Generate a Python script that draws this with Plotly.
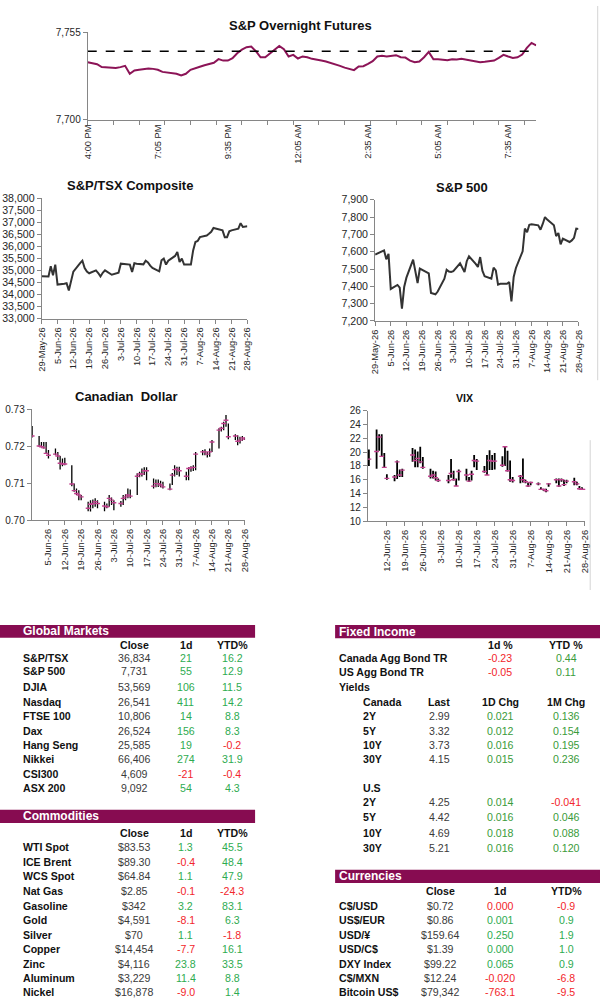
import numpy as np
import pandas as pd
import plotly.graph_objects as go

# ---------------- data ----------------
# S&P overnight futures, one reading every 2nd 5-minute bar from 4:00 PM
FUT_STEP = 2
fut_vals = [
    7736.2, 7735.6, 7734.9, 7733.1, 7732.8, 7732.6, 7732.6, 7733.1, 7733.9, 7728.9,
    7731.0, 7731.4, 7732.0, 7732.2, 7732.0, 7731.4, 7730.1, 7729.7, 7729.5, 7728.9,
    7727.8, 7728.9, 7731.4, 7732.6, 7733.3, 7734.3, 7735.1, 7735.8, 7738.1, 7737.2,
    7737.2, 7738.7, 7741.8, 7744.1, 7745.6, 7746.0, 7743.1, 7739.3, 7739.3, 7741.8,
    7743.9, 7746.4, 7744.3, 7739.8, 7740.8, 7738.5, 7739.8, 7739.3, 7738.3, 7737.9,
    7737.2, 7736.6, 7735.8, 7734.9, 7733.9, 7732.8, 7732.2, 7731.2, 7733.5, 7733.7,
    7735.1, 7736.8, 7739.8, 7740.2, 7739.8, 7740.4, 7740.6, 7739.3, 7739.1, 7737.2,
    7736.2, 7736.6, 7739.3, 7742.7, 7738.1, 7738.1, 7737.7, 7737.4, 7738.1, 7737.9,
    7738.3, 7737.7, 7737.2, 7736.6, 7736.2, 7736.4, 7736.8, 7737.2, 7738.9, 7740.8,
    7739.8, 7738.9, 7739.3, 7741.0, 7745.2, 7748.3, 7746.7,
]
fut_prev_close = 7743
fut_tick_bar = [0, 30, 60, 90, 120, 150, 180]
fut_tick_text = ["4:00 PM", "7:05 PM", "9:35 PM", "12:05 AM", "2:35 AM", "5:05 AM", "7:35 AM"]

# daily closes, business days 29-May-26 .. 28-Aug-26
tsx_close = [
    34760, 34750, 35170, 34800, 35240, 34410,
    34450, 34470, 34170, 34600, 34950,
    35300, 35400, 35100, 34950, 34880,
    35000, 34890, 34750, 34900, 35000,
    34820, 34840, 34860, 34900, 35280,
    35240, 35240, 34930, 35300, 35280,
    35250, 35400, 35330, 35200, 35100,
    34960, 35420, 35490, 35240, 35400,
    35600, 35760, 35350, 35490, 35240,
    35240, 35830, 36180, 36220, 36380,
    36450, 36520, 36600, 36760, 36740,
    36660, 36380, 36380, 36620, 36660,
    36730, 36960, 36800, 36820, 36834,
]
spx_close = [
    7583, 7600, 7607, 7556, 7588, 7385,
    7408, 7392, 7271, 7396, 7450,
    7554, 7490, 7419, 7502, 7495,
    7475, 7362, 7356, 7354, 7370,
    7444, 7496, 7485, 7483, 7487,
    7533, 7510, 7483, 7545, 7573,
    7530, 7512, 7569, 7490, 7458,
    7444, 7508, 7492, 7410, 7415,
    7415, 7425, 7313, 7454, 7506,
    7602, 7733, 7713, 7755, 7758,
    7752, 7727, 7760, 7800, 7785,
    7752, 7690, 7708, 7642, 7675,
    7656, 7665, 7680, 7733, 7731,
]

# Canadian dollar high / low / close, same business days
cad_high = [
    0.7255, 0.7228, 0.7212, 0.7212, 0.7212, 0.7190,
    0.7194, 0.7185, 0.7174, 0.7167, 0.7169,
    0.7149, 0.7099, 0.7086, 0.7081, 0.7068,
    0.7050, 0.7054, 0.7056, 0.7059, 0.7054,
    0.7050, 0.7045, 0.7068, 0.7061, 0.7054,
    0.7052, 0.7068, 0.7070, 0.7086, 0.7083,
    0.7127, 0.7131, 0.7140, 0.7143, 0.7143,
    0.7113, 0.7110, 0.7110, 0.7107, 0.7104,
    0.7099, 0.7128, 0.7149, 0.7145, 0.7145,
    0.7131, 0.7143, 0.7146, 0.7149, 0.7185,
    0.7190, 0.7192, 0.7185, 0.7194, 0.7217,
    0.7249, 0.7253, 0.7267, 0.7285, 0.7262,
    0.7233, 0.7230, 0.7226, 0.7228, 0.7224,
]
cad_low = [
    0.7224, 0.7199, 0.7197, 0.7194, 0.7179, 0.7167,
    0.7176, 0.7163, 0.7137, 0.7146, 0.7149,
    0.7092, 0.7077, 0.7068, 0.7054, 0.7054,
    0.7024, 0.7023, 0.7032, 0.7036, 0.7032,
    0.7024, 0.7032, 0.7036, 0.7041, 0.7027,
    0.7036, 0.7041, 0.7054, 0.7059, 0.7059,
    0.7068, 0.7116, 0.7118, 0.7122, 0.7108,
    0.7086, 0.7089, 0.7090, 0.7089, 0.7086,
    0.7081, 0.7095, 0.7118, 0.7122, 0.7118,
    0.7108, 0.7108, 0.7131, 0.7133, 0.7135,
    0.7176, 0.7176, 0.7170, 0.7172, 0.7185,
    0.7194, 0.7240, 0.7244, 0.7253, 0.7219,
    0.7217, 0.7203, 0.7208, 0.7215, 0.7217,
]
cad_close = [
    0.7228, 0.7201, 0.7199, 0.7196, 0.7181, 0.7176,
    0.7179, 0.7174, 0.7154, 0.7152, 0.7152,
    0.7098, 0.7080, 0.7072, 0.7068, 0.7063,
    0.7032, 0.7043, 0.7045, 0.7050, 0.7045,
    0.7038, 0.7036, 0.7059, 0.7054, 0.7047,
    0.7045, 0.7059, 0.7063, 0.7068, 0.7065,
    0.7119, 0.7125, 0.7125, 0.7134, 0.7134,
    0.7092, 0.7099, 0.7099, 0.7095, 0.7090,
    0.7084, 0.7122, 0.7137, 0.7139, 0.7134,
    0.7119, 0.7140, 0.7142, 0.7143, 0.7179,
    0.7185, 0.7185, 0.7179, 0.7185, 0.7212,
    0.7244, 0.7249, 0.7262, 0.7271, 0.7226,
    0.7228, 0.7214, 0.7217, 0.7223, 0.7220,
]

# VIX high / low / close, US trading days 5-Jun-26 .. 28-Aug-26
vix_high = [
    20.4, 23.3, 22.6, 22.6, 19.9, 16.8,
    16.7, 18.8, 17.5, 17.6,
    20.6, 20.4, 20.1, 20.8, 19.3,
    17.6, 17.3, 17.2, 16.2,
    16.7, 19.0, 17.3, 16.2, 17.5,
    17.6, 16.4, 17.3, 19.6, 19.0,
    18.0, 19.6, 20.3, 19.6, 19.9,
    19.4, 20.9, 20.2, 18.8, 16.4,
    16.7, 19.1, 16.0, 15.6, 15.7,
    15.6, 14.9, 14.7, 14.7, 15.5,
    16.2, 16.2, 16.2, 16.0, 16.0,
    16.3, 15.7, 15.1, 14.9, 14.6,
]
vix_low = [
    18.0, 17.6, 20.2, 19.4, 17.8, 16.0,
    15.8, 16.1, 16.4, 16.4,
    18.6, 17.8, 17.8, 18.4, 17.6,
    16.2, 16.2, 15.9, 15.7,
    15.5, 16.3, 15.9, 15.1, 15.9,
    15.9, 15.7, 15.9, 17.8, 17.4,
    17.0, 16.7, 17.4, 17.4, 17.5,
    17.9, 18.0, 17.2, 15.7, 15.6,
    15.5, 15.6, 15.5, 15.0, 15.2,
    15.2, 14.5, 14.4, 14.2, 15.0,
    15.5, 15.0, 15.7, 15.1, 15.5,
    15.2, 15.2, 14.6, 14.5, 14.5,
]
vix_close = [
    19.0, 20.1, 22.2, 19.4, 17.8, 16.2,
    16.4, 18.6, 16.7, 17.4,
    19.6, 18.8, 19.1, 18.6, 17.8,
    16.5, 16.7, 16.3, 15.9,
    15.9, 16.9, 16.0, 15.1, 17.2,
    16.7, 15.8, 16.8, 18.8, 18.7,
    17.2, 16.7, 18.8, 18.7, 18.7,
    18.1, 20.8, 17.3, 16.0, 15.9,
    16.5, 16.0, 15.7, 15.1, 15.6,
    15.4, 14.6, 14.6, 14.4, 15.4,
    16.0, 15.1, 16.0, 15.3, 15.8,
    15.7, 15.4, 14.7, 14.6, 14.6,
]

# --- tables ---
gm_names = ["S&P/TSX", "S&P 500", "DJIA", "Nasdaq", "FTSE 100", "Dax", "Hang Seng", "Nikkei", "CSI300", "ASX 200"]
gm_close = ["36,834", "7,731", "53,569", "26,541", "10,806", "26,524", "25,585", "66,406", "4,609", "9,092"]
gm_1d = [21, 55, 106, 411, 14, 156, 19, 274, -21, 54]
gm_ytd = [16.2, 12.9, 11.5, 14.2, 8.8, 8.3, -0.2, 31.9, -0.4, 4.3]

com_names = ["WTI Spot", "ICE Brent", "WCS Spot", "Nat Gas", "Gasoline", "Gold", "Silver", "Copper", "Zinc", "Aluminum", "Nickel"]
com_close = ["$83.53", "$89.30", "$64.84", "$2.85", "$342", "$4,591", "$70", "$14,454", "$4,116", "$3,229", "$16,878"]
com_1d = [1.3, -0.4, 1.1, -0.1, 3.2, -8.1, 1.1, -7.7, 23.8, 11.4, -9.0]
com_ytd = [45.5, 48.4, 47.9, -24.3, 83.1, 6.3, -1.8, 16.1, 33.5, 8.8, 1.4]

agg_names = ["Canada Agg Bond TR", "US Agg Bond TR"]
agg_1d = [-0.23, -0.05]
agg_ytd = [0.44, 0.11]

tenors = ["2Y", "5Y", "10Y", "30Y"]
ca_last = [2.99, 3.32, 3.73, 4.15]
ca_1d = [0.021, 0.012, 0.016, 0.015]
ca_1m = [0.136, 0.154, 0.195, 0.236]
us_last = [4.25, 4.42, 4.69, 5.21]
us_1d = [0.014, 0.016, 0.018, 0.016]
us_1m = [-0.041, 0.046, 0.088, 0.120]

cur_names = ["C$/USD", "US$/EUR", "USD/¥", "USD/C$", "DXY Index", "C$/MXN", "Bitcoin US$"]
cur_close = ["$0.72", "$0.86", "$159.64", "$1.39", "$99.22", "$12.24", "$79,342"]
cur_1d = [-0.0002, 0.001, 0.250, 0.0001, 0.065, -0.020, -763.1]
cur_1d_dec = [3, 3, 3, 3, 3, 3, 1]
cur_ytd = [-0.9, 0.9, 1.9, 1.0, 0.9, -6.8, -9.5]

# ---------------- style ----------------
W, H = 600, 1000
# the photographed page comes out slightly inset and shrunk; positions below are
# measured on the reference picture and mapped back through this
OX, SX, OY, SY = 5.0, 0.983, 5.4, 0.989
FONT = "Arial, Liberation Sans, sans-serif"
MAROON = "#870c51"
FUT_LINE = "#8c1457"
PINK = "#c2408e"
GREEN = "#2eab50"
GREEN_FI = "#3a9b3a"
RED = "#f2262b"
AXIS = "#868686"
TXT = "#262626"
VAL = "#3a3a3a"
XLAB = dict(family=FONT, size=9.3, color=TXT)


def fx(x):
    return (x - OX) / SX / W


def fy(y):
    return 1 - (y - OY) / SY / H


def dom_x(a, b):
    return [fx(a), fx(b)]


def dom_y(top, bottom):
    return [fy(bottom), fy(top)]


def axis(**kw):
    base = dict(showline=True, linecolor=AXIS, linewidth=1, ticks="outside", ticklen=4,
                tickcolor=AXIS, tickfont=dict(family=FONT, size=10.6, color=TXT),
                showgrid=False, zeroline=False, fixedrange=True)
    base.update(kw)
    return base


days = pd.bdate_range("2026-05-29", "2026-08-28")
vix_days = pd.bdate_range("2026-06-05", "2026-08-28").drop(pd.to_datetime(["2026-06-19", "2026-07-03"]))
fut_x = np.arange(len(fut_vals)) * FUT_STEP
WEEK = 7 * 86400000

fig = go.Figure()

# futures
fig.add_trace(go.Scatter(x=fut_x, y=fut_vals, mode="lines", line=dict(color=FUT_LINE, width=2),
                         xaxis="x", yaxis="y"))
fig.add_trace(go.Scatter(x=[fut_x[0], fut_x[-1]], y=[fut_prev_close] * 2, mode="lines",
                         line=dict(color="black", width=1.5, dash="dash"), xaxis="x", yaxis="y"))

# TSX / S&P 500
fig.add_trace(go.Scatter(x=days, y=tsx_close, mode="lines", line=dict(color="#333333", width=2),
                         xaxis="x2", yaxis="y2"))
fig.add_trace(go.Scatter(x=days, y=spx_close, mode="lines", line=dict(color="#333333", width=2),
                         xaxis="x3", yaxis="y3"))


# high-low-close bars
def hlc(x, hi, lo, cl, xa, ya, thick):
    cl = np.array(cl)
    fig.add_trace(go.Scatter(
        x=x, y=cl, mode="markers", xaxis=xa, yaxis=ya,
        marker=dict(symbol="line-ew", size=3.5, color=PINK, line=dict(width=1.4, color=PINK)),
        error_y=dict(type="data", symmetric=False, array=np.array(hi) - cl,
                     arrayminus=cl - np.array(lo), width=0, thickness=thick, color="black"),
    ))


hlc(days, cad_high, cad_low, cad_close, "x4", "y4", 1.3)
hlc(vix_days, vix_high, vix_low, vix_close, "x5", "y5", 1.8)

date_fmt = "%-d-%b-%y"
fig.update_layout(
    width=W, height=H, margin=dict(l=0, r=0, t=0, b=0),
    paper_bgcolor="white", plot_bgcolor="white", showlegend=False,
    font=dict(family=FONT, color=TXT),
    xaxis=axis(domain=dom_x(87.7, 536), anchor="y", range=[0, fut_x[-1]],
               tickmode="array", tickvals=fut_tick_bar, ticktext=fut_tick_text, tickangle=-90,
               ticks="", tickfont=XLAB,
               minor=dict(tickmode="linear", tick0=0, dtick=11, ticks="outside", ticklen=4,
                          tickcolor=AXIS)),
    yaxis=axis(domain=dom_y(31.7, 119.3), anchor="x", range=[7700, 7755],
               tickmode="array", tickvals=[7700, 7755], tickformat=",",
               tickfont=dict(family=FONT, size=10, color=TXT)),
    xaxis2=axis(domain=dom_x(41.7, 247.3), anchor="y2", type="date",
                range=["2026-05-29", "2026-08-28"], tick0="2026-05-29", dtick=WEEK,
                tickformat=date_fmt, tickangle=-90, tickfont=XLAB),
    yaxis2=axis(domain=dom_y(197.7, 318.3), anchor="x2", range=[33000, 38000], dtick=500, tickformat=","),
    xaxis3=axis(domain=dom_x(375, 578.3), anchor="y3", type="date",
                range=["2026-05-29", "2026-08-28"], tick0="2026-05-29", dtick=WEEK,
                tickformat=date_fmt, tickangle=-90, tickfont=XLAB),
    yaxis3=axis(domain=dom_y(199.3, 320.7), anchor="x3", range=[7200, 7900], dtick=100, tickformat=","),
    xaxis4=axis(domain=dom_x(31.7, 245), anchor="y4", type="date",
                range=["2026-05-28 20:00", "2026-08-28 04:00"],
                tickmode="array", tickvals=pd.date_range("2026-06-05", "2026-08-28", freq="7D"),
                tickformat=date_fmt, tickangle=-90, tickfont=XLAB),
    yaxis4=axis(domain=dom_y(409.3, 520), anchor="x4", range=[0.70, 0.73], dtick=0.01,
                tickformat=".2f", tickfont=dict(family=FONT, size=10, color=TXT)),
    xaxis5=axis(domain=dom_x(367.7, 585), anchor="y5", type="date",
                range=["2026-06-04 14:00", "2026-08-28 06:00"],
                tickmode="array", tickvals=pd.date_range("2026-06-12", "2026-08-28", freq="7D"),
                tickformat=date_fmt, tickangle=-90, tickfont=XLAB),
    yaxis5=axis(domain=dom_y(410.7, 521), anchor="x5", range=[10, 26], dtick=2,
                tickfont=dict(family=FONT, size=10, color=TXT)),
)


def text(x, y, s, anchor="center", color="#111111", size=10.6, bold=False):
    fig.add_annotation(x=fx(x), y=fy(y), xref="paper", yref="paper",
                       text=f"<b>{s}</b>" if bold else s, showarrow=False,
                       xanchor=anchor, yanchor="middle",
                       font=dict(family=FONT, size=size, color=color))


def sign_color(v, green=GREEN):
    return RED if v < 0 else green


# chart titles
text(300, 25, "S&P Overnight Futures", size=13, bold=True)
text(130, 185.5, "S&P/TSX Composite", size=13, bold=True)
text(461.7, 186.7, "S&P 500", size=13, bold=True)
text(126, 396, "Canadian  Dollar", size=13, bold=True)
text(464, 398, "VIX", size=10.6, bold=True)


def header(x0, x1, y0, y1, label):
    fig.add_shape(type="rect", xref="paper", yref="paper", x0=fx(x0) if x0 > 0 else -0.02, x1=fx(x1),
                  y0=fy(y1), y1=fy(y0), fillcolor=MAROON, line=dict(width=0), layer="below")
    text(x0 + (20.7 if x0 == 0 else 2.3), (y0 + y1) / 2, label, anchor="left", color="white", size=12, bold=True)


# Global Markets
header(0, 255, 625, 637.7, "Global Markets")
for cx, lab in zip([134, 185.7, 232.3], ["Close", "1d", "YTD%"]):
    text(cx, 645, lab, bold=True)
gm_rows = [657.7, 671, 686.7, 701.7, 716, 730.7, 745, 759.3, 774, 788.3]
for y, n, c, d, t in zip(gm_rows, gm_names, gm_close, gm_1d, gm_ytd):
    text(20.7, y, n, anchor="left", bold=True)
    text(134, y, c, color=VAL)
    text(185.7, y, f"{d}", color=sign_color(d))
    text(232.3, y, f"{t:.1f}", color=sign_color(t))

# Commodities
header(0, 255, 810, 823.3, "Commodities")
for cx, lab in zip([134, 185.7, 232.3], ["Close", "1d", "YTD%"]):
    text(cx, 833.3, lab, bold=True)
com_rows = [847.7, 862.3, 876.7, 891.7, 906, 920.7, 935, 949.3, 964, 978.3, 992.7]
for y, n, c, d, t in zip(com_rows, com_names, com_close, com_1d, com_ytd):
    text(20.7, y, n, anchor="left", bold=True)
    text(134, y, c, color=VAL)
    text(185.7, y, f"{d:.1f}", color=sign_color(d))
    text(232.3, y, f"{t:.1f}", color=sign_color(t))

# Fixed Income
header(335, 600, 625, 638.3, "Fixed Income")
text(500, 645, "1d %", bold=True)
text(566, 645, "YTD %", bold=True)
for y, n, d, t in zip([658.3, 671.7], agg_names, agg_1d, agg_ytd):
    text(337.3, y, n, anchor="left", bold=True)
    text(500, y, f"{d:.2f}", color=sign_color(d, GREEN_FI))
    text(566, y, f"{t:.2f}", color=sign_color(t, GREEN_FI))
text(337.3, 687.3, "Yields", anchor="left", bold=True)
text(360.7, 701.7, "Canada", anchor="left", bold=True)
for cx, lab in zip([439.3, 500, 566], ["Last", "1D Chg", "1M Chg"]):
    text(cx, 701.7, lab, bold=True)
for y, n, l, d, m in zip([716, 730.7, 745, 759.3], tenors, ca_last, ca_1d, ca_1m):
    text(360.7, y, n, anchor="left", bold=True)
    text(439.3, y, f"{l:.2f}", color=VAL)
    text(500, y, f"{d:.3f}", color=sign_color(d, GREEN_FI))
    text(566, y, f"{m:.3f}", color=sign_color(m, GREEN_FI))
text(360.7, 788.3, "U.S", anchor="left", bold=True)
for y, n, l, d, m in zip([802.7, 817.3, 833.3, 848.3], tenors, us_last, us_1d, us_1m):
    text(360.7, y, n, anchor="left", bold=True)
    text(439.3, y, f"{l:.2f}", color=VAL)
    text(500, y, f"{d:.3f}", color=sign_color(d, GREEN_FI))
    text(566, y, f"{m:.3f}", color=sign_color(m, GREEN_FI))

# Currencies
header(335, 600, 870, 883.3, "Currencies")
for cx, lab in zip([440, 500, 566], ["Close", "1d", "YTD%"]):
    text(cx, 891.7, lab, bold=True)
cur_rows = [906, 920.7, 935, 949.3, 964, 978.3, 992.7]
for y, n, c, d, k, t in zip(cur_rows, cur_names, cur_close, cur_1d, cur_1d_dec, cur_ytd):
    s = f"{d:.{k}f}"
    if s.startswith("-") and float(s) == 0:
        s = s[1:]
    text(337.3, y, n, anchor="left", bold=True)
    text(440, y, c, color=VAL)
    text(500, y, s, color=sign_color(d))
    text(566, y, f"{t:.1f}", color=sign_color(t))

# faint frame edges on the right
fig.add_shape(type="line", xref="paper", yref="paper", x0=fx(597.5), x1=fx(597.5), y0=fy(380), y1=1,
              line=dict(color="#d4d4d4", width=1))
fig.add_shape(type="line", xref="paper", yref="paper", x0=fx(590), x1=fx(590), y0=fy(590), y1=fy(440),
              line=dict(color="#d4d4d4", width=1))

# drop the page's default body margin so the 600x1000 figure sits at the window origin
fig.write_html("out.html", config={"displayModeBar": False},
               post_script="document.body.style.margin='0';document.body.style.overflow='hidden';")
